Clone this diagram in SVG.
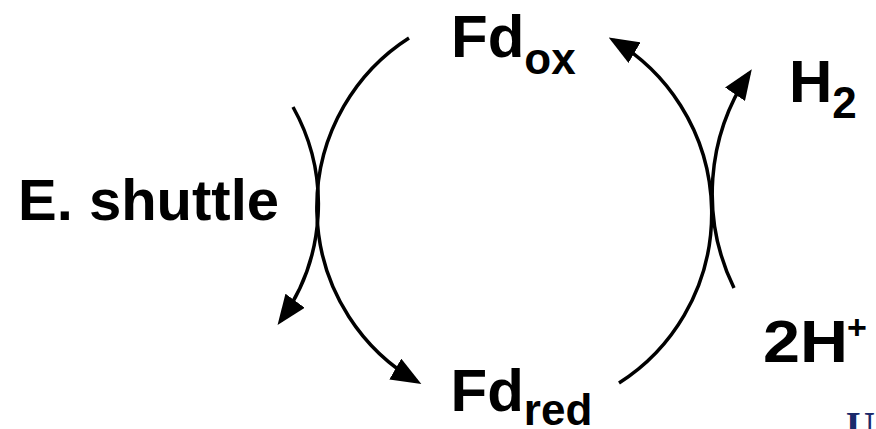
<svg xmlns="http://www.w3.org/2000/svg" width="876" height="429" viewBox="0 0 876 429">
  <style>
    .arc { fill: none; stroke: #000; stroke-width: 3.5; stroke-linecap: butt; }
    .lbl { font-family: "Liberation Sans", Arial, sans-serif; font-weight: bold; fill: #000; }
    .main { font-size: 60px; }
    .sub { font-size: 44px; }
  </style>
  <defs>
    <marker id="ah" markerUnits="userSpaceOnUse" markerWidth="30" markerHeight="24" viewBox="0 0 30 24" refX="25" refY="12" orient="auto">
      <path d="M0,0 L30,12 L0,24 z" fill="#000"/>
    </marker>
  </defs>
  <rect width="876" height="429" fill="#fff"/>

  <g id="connectors">
    <path class="arc" d="M 409 38 A 197 200 0 0 0 417 381.5" marker-end="url(#ah)"/>
    <path class="arc" d="M 293 107 A 199 199 0 0 1 280.5 321" marker-end="url(#ah)"/>
    <path class="arc" d="M 619 383 A 197 200 0 0 0 613 40" marker-end="url(#ah)"/>
    <path class="arc" d="M 734 288 A 215 215 0 0 1 749 73.5" marker-end="url(#ah)"/>
  </g>

  <g id="fd_ox">
    <text class="lbl main" x="451" y="56.5">Fd<tspan class="sub" dy="17">ox</tspan></text>
  </g>
  <g id="fd_red">
    <text class="lbl main" x="450.5" y="411">Fd<tspan class="sub" dy="14">red</tspan></text>
  </g>
  <g id="e_shuttle">
    <text class="lbl" x="18" y="220" font-size="58">E. shuttle</text>
  </g>
  <g id="h2">
    <text class="lbl main" x="789" y="101.7">H<tspan class="sub" font-size="42" dy="16.6">2</tspan></text>
  </g>
  <g id="h_plus">
    <text class="lbl main" x="763" y="361.7" textLength="85" lengthAdjust="spacingAndGlyphs">2H</text>
    <text class="lbl" x="847" y="339" font-size="34">+</text>
  </g>
  <g id="logo">
    <text x="846" y="438.5" font-family="Liberation Serif, serif" font-weight="bold" font-size="40" fill="#1b2a6b">U</text>
  </g>
</svg>
